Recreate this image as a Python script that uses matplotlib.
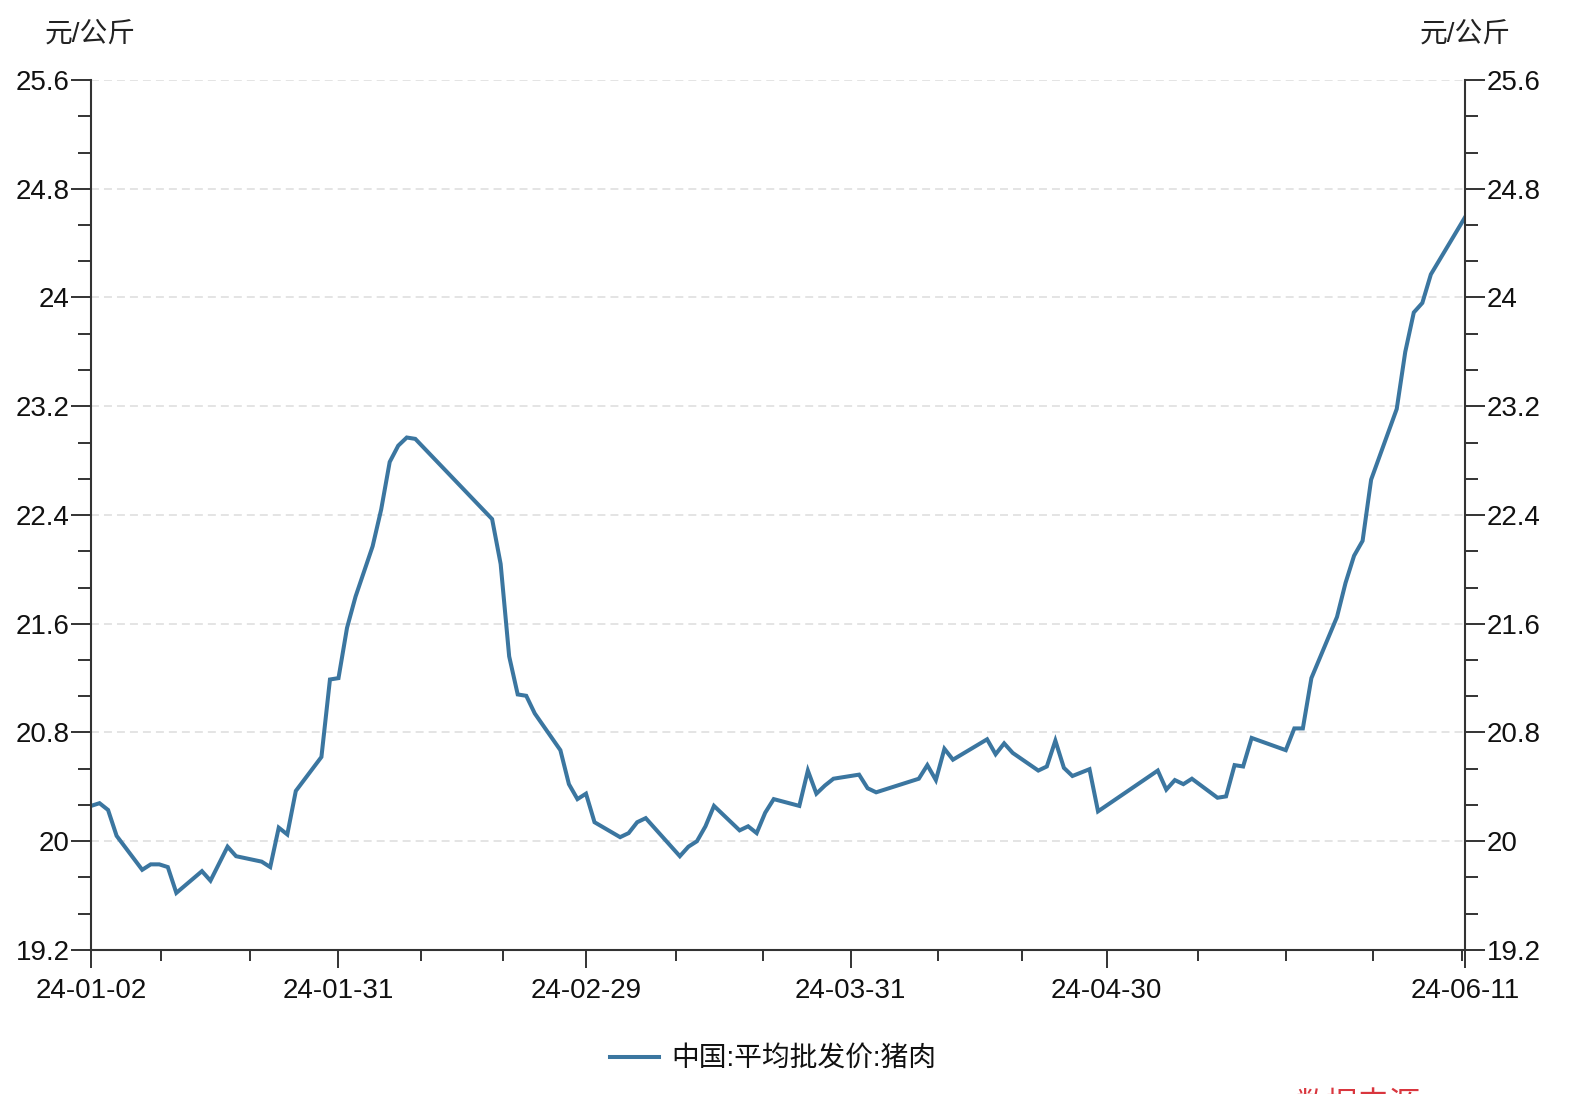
import datetime as dt
import matplotlib
matplotlib.use("Agg")
import matplotlib.pyplot as plt
import matplotlib.dates as mdates
from matplotlib.ticker import FixedLocator, MultipleLocator, FuncFormatter

plt.rcParams['font.family'] = ['Liberation Sans', 'Noto Sans CJK SC', 'DejaVu Sans']

# working-day prices (元/公斤)
dates = ["2024-01-02", "2024-01-03", "2024-01-04", "2024-01-05", "2024-01-08", "2024-01-09",
         "2024-01-10", "2024-01-11", "2024-01-12", "2024-01-15", "2024-01-16", "2024-01-18",
         "2024-01-19", "2024-01-22", "2024-01-23", "2024-01-24", "2024-01-25", "2024-01-26",
         "2024-01-29", "2024-01-30", "2024-01-31", "2024-02-01", "2024-02-02", "2024-02-04",
         "2024-02-05", "2024-02-06", "2024-02-07", "2024-02-08", "2024-02-09", "2024-02-18",
         "2024-02-19", "2024-02-20", "2024-02-21", "2024-02-22", "2024-02-23", "2024-02-26",
         "2024-02-27", "2024-02-28", "2024-02-29", "2024-03-01", "2024-03-04", "2024-03-05",
         "2024-03-06", "2024-03-07", "2024-03-11", "2024-03-12", "2024-03-13", "2024-03-14",
         "2024-03-15", "2024-03-18", "2024-03-19", "2024-03-20", "2024-03-21", "2024-03-22",
         "2024-03-25", "2024-03-26", "2024-03-27", "2024-03-28", "2024-03-29", "2024-04-01",
         "2024-04-02", "2024-04-03", "2024-04-08", "2024-04-09", "2024-04-10", "2024-04-11",
         "2024-04-12", "2024-04-16", "2024-04-17", "2024-04-18", "2024-04-19", "2024-04-22",
         "2024-04-23", "2024-04-24", "2024-04-25", "2024-04-26", "2024-04-28", "2024-04-29",
         "2024-05-06", "2024-05-07", "2024-05-08", "2024-05-09", "2024-05-10", "2024-05-13",
         "2024-05-14", "2024-05-15", "2024-05-16", "2024-05-17", "2024-05-21", "2024-05-22",
         "2024-05-23", "2024-05-24", "2024-05-27", "2024-05-28", "2024-05-29", "2024-05-30",
         "2024-05-31", "2024-06-03", "2024-06-04", "2024-06-05", "2024-06-06", "2024-06-07",
         "2024-06-11"]
prices = [20.26, 20.28, 20.23, 20.04, 19.79, 19.83,
          19.83, 19.81, 19.62, 19.78, 19.71, 19.96,
          19.89, 19.85, 19.81, 20.10, 20.05, 20.37,
          20.62, 21.19, 21.20, 21.57, 21.80, 22.17,
          22.44, 22.79, 22.91, 22.97, 22.96, 22.37,
          22.04, 21.36, 21.08, 21.07, 20.94, 20.67,
          20.42, 20.31, 20.35, 20.14, 20.03, 20.06,
          20.14, 20.17, 19.89, 19.96, 20.00, 20.11,
          20.26, 20.08, 20.11, 20.06, 20.21, 20.31,
          20.26, 20.52, 20.35, 20.41, 20.46, 20.49,
          20.39, 20.36, 20.46, 20.56, 20.45, 20.68,
          20.60, 20.75, 20.64, 20.72, 20.65, 20.52,
          20.55, 20.74, 20.54, 20.48, 20.53, 20.22,
          20.52, 20.38, 20.45, 20.42, 20.46, 20.32,
          20.33, 20.56, 20.55, 20.76, 20.67, 20.83,
          20.83, 21.20, 21.65, 21.90, 22.10, 22.21,
          22.66, 23.18, 23.60, 23.89, 23.96, 24.17,
          24.59]

series_name = "中国:平均批发价:猪肉"
unit = "元/公斤"
xtick_labels = ["2024-01-02", "2024-01-31", "2024-02-29", "2024-03-31", "2024-04-30", "2024-06-11"]
# unlabeled ticks, as day offsets from the first date
minor_offsets = [8.2, 18.6, 38.7, 48.3, 68.6, 78.8, 99.2, 109.1, 129.7, 140.0, 150.2, 160.6]

x = [dt.datetime.strptime(d, "%Y-%m-%d") for d in dates]
start = x[0]
end = dt.datetime(2024, 6, 11)

W, H = 1570, 1094
fig = plt.figure(figsize=(W / 100, H / 100), dpi=100)
ax = fig.add_axes([91 / W, 1 - 950 / H, (1465 - 91) / W, (950 - 80) / H])

line_color = "#3b76a0"
ax.plot(x, prices, color=line_color, lw=2.9, label=series_name, solid_joinstyle="miter")

ax.set_xlim(start, end)
ax.set_ylim(19.2, 25.6)

# y axis, both sides
ax.yaxis.set_major_locator(MultipleLocator(0.8))
ax.yaxis.set_minor_locator(MultipleLocator(0.8 / 3))
ax.yaxis.set_major_formatter(FuncFormatter(lambda v, p: f"{v:.1f}".rstrip("0").rstrip(".")))
ax.tick_params(axis="y", which="both", direction="out", left=True, right=True,
               labelleft=True, labelright=True, colors="#333333", width=1.4, labelsize=20,
               labelcolor="#111111")
ax.tick_params(axis="y", which="major", length=14.4, pad=1)
ax.tick_params(axis="y", which="minor", length=9.4)

# x axis
major_pos = [mdates.date2num(dt.datetime.strptime(d, "%Y-%m-%d")) for d in xtick_labels]
minor_pos = [mdates.date2num(start + dt.timedelta(days=o)) for o in minor_offsets]
ax.xaxis.set_major_locator(FixedLocator(major_pos))
ax.xaxis.set_minor_locator(FixedLocator(minor_pos))
ax.set_xticklabels([d[2:] for d in xtick_labels])
ax.tick_params(axis="x", which="both", direction="out", colors="#333333", width=1.4,
               labelsize=20, labelcolor="#111111")
ax.tick_params(axis="x", which="major", length=13, pad=7.5)
ax.tick_params(axis="x", which="minor", length=8)

ax.grid(axis="y", which="major", color="#dcdcdc", lw=1.1, linestyle=(0, (5.2, 3.3)))
ax.set_axisbelow(True)

ax.spines["top"].set_visible(False)
for s in ["left", "right", "bottom"]:
    ax.spines[s].set_color("#333333")
    ax.spines[s].set_linewidth(1.5)

fig.text(45 / W, 1 - 35 / H, unit, fontsize=20, color="#222222", va="center", ha="left")
fig.text(1511 / W, 1 - 35 / H, unit, fontsize=20, color="#222222", va="center", ha="right")

fig.legend(loc="center", bbox_to_anchor=(773 / W, 1 - 1060 / H), frameon=False,
           fontsize=20, handlelength=1.75, handletextpad=0.45, labelcolor="#111111")

# source note, cut off by the bottom edge as in the original
fig.text(1296 / W, 1 - 1091 / H, "数据来源", fontsize=22.5, color="#d9363e", va="top", ha="left")

fig.savefig("out.png", dpi=100)
